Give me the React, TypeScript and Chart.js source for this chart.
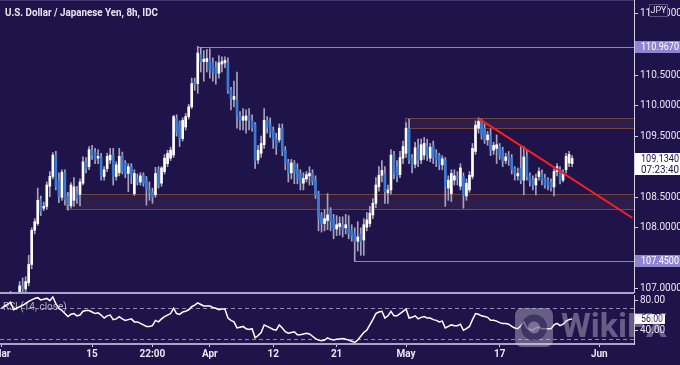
import React, { useEffect, useRef } from 'react';
import { Chart, registerables } from 'chart.js';
Chart.register(...registerables);

const BG = '#1f1449';
const AXIS = '#d2cfe2';
const TEXT = '#e8e6f2';
const UP = '#ffffff';
const DOWN = '#3b7bd6';
const WICK = '#a7a3be';
const SEP = '#aaa5c8';
const LEVEL = '#8c85c8';
const FONT = '"Liberation Sans Narrow", Roboto, sans-serif';

const title = 'U.S. Dollar / Japanese Yen, 8h, IDC';
const slotCount = 210;

const opens = [
  106.55,106.65,106.75,106.72,106.90,106.78,106.90,107.05,107.00,107.10,
  107.40,107.96,108.07,108.47,108.32,108.35,108.68,108.84,109.19,108.78,
  108.50,108.90,108.52,108.36,108.45,108.56,108.55,108.73,109.08,109.00,
  109.27,109.23,109.14,109.16,108.84,108.97,109.11,109.19,108.84,108.90,
  109.19,109.06,108.89,109.00,108.56,108.81,108.75,108.86,108.78,108.63,
  108.58,108.54,108.95,108.73,108.92,109.05,109.14,109.19,109.79,109.71,
  109.46,109.65,109.82,109.98,110.38,110.36,110.83,110.72,110.72,110.75,
  110.70,110.62,110.53,110.68,110.70,110.70,110.25,110.10,110.09,109.83,
  109.76,109.76,109.84,109.76,109.69,109.11,109.22,109.36,109.76,109.70,
  109.60,109.46,109.44,109.62,109.27,109.08,108.90,109.06,108.96,108.89,
  108.73,108.80,108.85,108.89,108.78,108.55,108.20,108.07,108.12,108.29,
  108.15,107.98,108.02,108.05,108.00,108.04,107.96,107.90,107.78,107.90,
  107.80,108.01,108.07,108.21,108.40,108.67,108.86,108.89,108.57,108.62,
  109.19,109.00,108.87,109.14,109.22,109.63,109.15,109.04,109.30,109.11,
  109.19,109.33,109.14,109.35,109.22,109.19,109.03,109.11,108.65,108.56,
  108.78,108.85,108.68,108.84,108.52,108.62,108.84,109.25,109.63,109.74,
  109.63,109.44,109.52,109.27,109.30,109.33,109.27,109.10,109.19,109.14,
  108.97,108.85,108.97,108.78,109.16,108.86,108.79,108.70,108.84,108.89,
  108.81,108.78,108.75,108.67,108.92,108.95,108.78,108.95,109.06,109.05,
];
const highs = [
  106.70,106.80,106.85,106.96,106.94,106.92,107.12,107.18,107.20,107.55,
  108.00,108.15,108.65,108.52,108.42,108.75,108.92,109.23,109.25,108.90,
  108.95,108.95,108.58,108.74,108.82,108.68,108.80,109.16,109.15,109.33,
  109.35,109.30,109.28,109.22,109.00,109.22,109.30,109.30,109.08,109.30,
  109.24,109.10,109.05,109.05,108.95,108.88,108.90,108.90,108.84,108.75,
  108.65,108.99,109.00,109.00,109.20,109.27,109.32,109.84,109.85,109.75,
  109.80,109.87,110.02,110.45,110.45,110.97,110.95,110.90,110.92,110.93,
  110.78,110.72,110.82,110.80,110.80,110.78,110.30,110.40,110.55,109.90,
  109.95,109.93,109.95,109.85,109.72,109.35,109.50,109.95,109.82,109.80,
  109.65,109.55,109.70,109.70,109.33,109.12,109.12,109.10,109.05,108.95,
  108.90,108.92,109.00,108.95,108.85,108.60,108.25,108.30,108.56,108.33,
  108.22,108.20,108.18,108.18,108.22,108.20,108.05,108.00,108.10,108.00,
  108.15,108.25,108.35,108.48,108.82,109.00,109.10,109.00,108.70,109.28,
  109.25,109.10,109.25,109.42,109.72,109.78,109.20,109.40,109.45,109.45,
  109.48,109.45,109.38,109.42,109.28,109.22,109.18,109.15,108.85,108.95,
  108.95,108.92,109.05,108.90,108.80,108.92,109.38,109.75,109.80,109.78,
  109.70,109.58,109.62,109.40,109.52,109.38,109.32,109.22,109.25,109.20,
  109.00,108.98,109.33,109.33,109.27,108.90,108.85,108.88,108.98,108.95,
  108.88,108.82,108.80,108.96,109.05,109.00,108.95,109.22,109.25,109.18,
];
const lows = [
  106.50,106.60,106.65,106.70,106.70,106.72,106.85,106.95,106.92,107.05,
  107.33,107.90,108.04,108.20,108.28,108.30,108.51,108.80,108.62,108.41,
  108.45,108.37,108.29,108.32,108.35,108.40,108.36,108.70,108.90,108.95,
  109.12,109.05,109.05,108.78,108.78,108.92,109.05,108.70,108.78,108.85,
  108.88,108.82,108.59,108.72,108.53,108.70,108.70,108.68,108.37,108.45,
  108.40,108.50,108.65,108.68,108.88,109.00,109.10,109.15,109.50,109.33,
  109.42,109.60,109.78,109.95,110.25,110.20,110.55,110.40,110.55,110.45,
  110.40,110.35,110.45,110.55,110.62,110.20,109.93,109.98,109.63,109.60,
  109.60,109.55,109.60,109.58,108.97,109.05,109.15,109.30,109.55,109.48,
  109.30,109.20,109.40,109.18,108.95,108.75,108.80,108.72,108.72,108.62,
  108.62,108.75,108.70,108.70,108.48,107.95,107.93,107.95,107.97,107.95,
  107.82,107.87,107.88,107.85,107.90,107.82,107.78,107.45,107.62,107.55,
  107.55,107.95,108.02,108.15,108.33,108.60,108.75,108.40,108.40,108.55,
  108.80,108.75,108.82,109.05,109.15,109.05,108.90,108.98,109.00,109.05,
  109.12,109.10,109.08,109.05,109.00,108.95,108.95,108.35,108.45,108.43,
  108.70,108.70,108.62,108.32,108.45,108.58,108.80,109.20,109.55,109.45,
  109.38,109.35,109.18,109.20,109.05,109.12,109.00,109.05,109.02,108.88,
  108.78,108.78,108.72,108.54,108.78,108.68,108.62,108.54,108.78,108.70,
  108.65,108.62,108.60,108.52,108.85,108.72,108.75,108.90,109.00,109.00,
];
const closes = [
  106.65,106.75,106.72,106.90,106.78,106.86,107.05,107.00,107.12,107.40,
  107.96,108.10,108.45,108.26,108.35,108.70,108.84,109.19,108.67,108.51,
  108.91,108.46,108.38,108.70,108.67,108.48,108.75,109.08,108.97,109.28,
  109.19,109.11,109.17,108.84,108.95,109.17,109.19,108.84,109.03,109.17,
  108.92,108.89,109.00,108.84,108.89,108.75,108.85,108.73,108.62,108.57,
  108.50,108.89,108.70,108.98,109.14,109.22,109.27,109.82,109.57,109.46,
  109.76,109.82,109.98,110.36,110.34,110.86,110.72,110.76,110.77,110.58,
  110.55,110.52,110.70,110.72,110.74,110.25,110.12,110.15,109.82,109.76,
  109.82,109.83,109.76,109.64,109.10,109.27,109.38,109.76,109.65,109.55,
  109.44,109.33,109.63,109.25,109.06,108.89,109.06,108.91,108.81,108.73,
  108.81,108.87,108.89,108.76,108.54,108.16,108.07,108.15,108.21,108.10,
  107.99,108.05,108.07,107.97,108.05,107.90,107.86,107.77,107.85,107.77,
  108.05,108.13,108.24,108.40,108.70,108.86,108.94,108.59,108.62,109.19,
  108.89,108.84,109.15,109.33,109.63,109.11,109.04,109.31,109.11,109.36,
  109.38,109.19,109.32,109.15,109.11,109.03,109.13,108.68,108.78,108.89,
  108.85,108.82,108.98,108.54,108.73,108.86,109.30,109.68,109.74,109.52,
  109.44,109.52,109.27,109.35,109.36,109.19,109.08,109.16,109.11,108.95,
  108.89,108.89,108.78,109.16,108.84,108.75,108.70,108.81,108.92,108.78,
  108.70,108.70,108.66,108.92,109.00,108.78,108.89,109.17,109.20,109.134,
];
const rsi = [
  70,73,75,78,68,70,72,74,76,79,
  81,83,84,81,82,83,80,85,76,70,
  67,63,59,62,63,60,61,66,67,67,
  65,63,64,61,57,60,61,55,56,59,
  56,54,55,56,52,52,50,48,46,46,
  47,54,52,56,59,61,63,70,63,62,
  65,66,68,72,74,77,75,73,73,73,
  71,70,68,69,69,57,54,52,44,45,
  46,43,42,43,31,34,38,48,46,44,
  42,41,48,44,39,37,38,39,35,35,
  36,37,36,33,30,28,27,28,31,29,
  28,29,29.5,30,29,28,26.5,25,28,33,
  38,41,48,55,63,65,66,57,60,66,
  60,60,63,66,69,57,58,60,56,58,
  59,57,57,55,54,52,53,44,46,48,
  47,47,49,41,43,46,55,63,62,60,
  59,58,54,54,53,51,50,50,49,46,
  44,43,47,52,44,42,41,44,45,43,
  43,43,43,48,50,47,49,53,55,56,
];

const xTickIdx = [0, 30, 50, 69, 90, 111, 134, 165, 198];
const xTickText = ['Mar', '15', '22:00', 'Apr', '12', '21', 'May', '17', 'Jun'];

const priceMin = 106.933;
const priceMax = 111.728;
const priceTicks = [107.0, 108.0, 108.5, 109.5, 110.0, 110.5, 111.5];

const zoneLow = [108.30, 109.63];
const zoneHigh = [108.56, 109.80];
const zoneStart = [22, 134];

const levelPrice = [110.967, 107.45];
const levelStart = [65, 117];

const trendIdx = [158, 209];
const trendPrice = [109.79, 108.16];

const lastPrice = 109.134;
const countdown = '07:23:40';

const rsiMin = 22.8;
const rsiMax = 87.5;
const rsiTicks = [40, 80];
const rsiLevels = [70, 30];
const lastRsi = 56;

function drawTag(ctx: CanvasRenderingContext2D, yTop: number, w: number, h: number, bg: string, fg: string, lines: string[], lineH: number) {
  ctx.save();
  ctx.fillStyle = bg;
  ctx.fillRect(635, yTop, w, h);
  ctx.fillStyle = fg;
  ctx.font = `10px ${FONT}`;
  ctx.textAlign = 'left';
  ctx.textBaseline = 'middle';
  lines.forEach((t, k) => ctx.fillText(t, 641, yTop + 6.5 + k * lineH, w - 7));
  ctx.restore();
}

export default function App() {
  const mainRef = useRef<HTMLCanvasElement>(null);
  const rsiRef = useRef<HTMLCanvasElement>(null);

  useEffect(() => {
    const labels = Array.from({ length: slotCount }, (_, i) => String(i));
    const trend: (number | null)[] = Array.from({ length: slotCount }, () => null);
    trendIdx.forEach((ix, k) => { trend[ix] = trendPrice[k]; });

    const mainOverlay = {
      id: 'mainOverlay',
      beforeDatasetsDraw(chart: any) {
        const { ctx, chartArea, scales } = chart;
        const x = scales.x, y = scales.y;
        const half = (chartArea.right - chartArea.left) / slotCount / 2;
        ctx.save();
        ctx.beginPath();
        ctx.rect(chartArea.left, chartArea.top, chartArea.right - chartArea.left, chartArea.bottom - chartArea.top);
        ctx.clip();
        zoneLow.forEach((lo, k) => {
          const x0 = Math.round(x.getPixelForValue(zoneStart[k]) - half) + 0.5;
          const yT = Math.round(y.getPixelForValue(zoneHigh[k])) + 0.5;
          const yB = Math.round(y.getPixelForValue(lo)) + 0.5;
          ctx.fillStyle = '#2e1d4a';
          ctx.fillRect(x0, yT, chartArea.right - x0, yB - yT);
          ctx.strokeStyle = '#70463f';
          ctx.lineWidth = 1;
          ctx.strokeRect(x0, yT, chartArea.right - x0 + 2, yB - yT);
        });
        levelPrice.forEach((p, k) => {
          const x0 = x.getPixelForValue(levelStart[k]);
          const yy = Math.round(y.getPixelForValue(p)) + 0.5;
          ctx.strokeStyle = LEVEL;
          ctx.lineWidth = 1;
          ctx.beginPath();
          ctx.moveTo(x0, yy);
          ctx.lineTo(chartArea.right, yy);
          ctx.stroke();
        });
        ctx.restore();
      },
      afterDraw(chart: any) {
        const { ctx, scales } = chart;
        const y = scales.y;
        ctx.save();
        ctx.fillStyle = TEXT;
        ctx.font = `bold 11px ${FONT}`;
        ctx.textBaseline = 'alphabetic';
        ctx.textAlign = 'left';
        ctx.fillText(title, 5, 16, 153);
        ctx.restore();
        levelPrice.forEach((p) => {
          const yy = y.getPixelForValue(p);
          drawTag(ctx, Math.round(yy - 6), 45, 12, '#8e84d0', '#ffffff', [p.toFixed(4)], 11);
        });
        const yl = y.getPixelForValue(lastPrice);
        drawTag(ctx, Math.round(yl - 6), 45, 22, '#ffffff', BG, [lastPrice.toFixed(4), countdown], 10.5);
        ctx.save();
        ctx.fillStyle = BG;
        ctx.fillRect(649, 4, 19, 13);
        ctx.strokeStyle = '#5a5482';
        ctx.lineWidth = 1;
        ctx.strokeRect(649.5, 4.5, 18, 12);
        ctx.fillStyle = TEXT;
        ctx.font = `9px ${FONT}`;
        ctx.textAlign = 'center';
        ctx.textBaseline = 'middle';
        ctx.fillText('JPY', 658.5, 10.5);
        ctx.restore();
      },
    };

    const c1 = new Chart(mainRef.current as HTMLCanvasElement, {
      type: 'bar',
      data: {
        labels,
        datasets: [
          {
            type: 'line',
            data: trend,
            borderColor: '#ff1e1e',
            borderWidth: 2,
            pointRadius: 0,
            spanGaps: true,
            order: -1,
          } as any,
          {
            data: opens.map((o, i) => [o, closes[i]]),
            backgroundColor: opens.map((o, i) => (closes[i] >= o ? UP : DOWN)),
            barThickness: 2,
            minBarLength: 1,
            grouped: false,
            order: 0,
          } as any,
          {
            data: lows.map((l, i) => [l, highs[i]]),
            backgroundColor: WICK,
            barThickness: 1,
            grouped: false,
            order: 1,
          } as any,
        ],
      },
      options: {
        responsive: false,
        animation: false,
        devicePixelRatio: 1,
        events: [],
        layout: { padding: 0 },
        plugins: { legend: { display: false }, tooltip: { enabled: false } },
        scales: {
          x: { type: 'category', offset: true, display: false },
          y: {
            position: 'right',
            min: priceMin,
            max: priceMax,
            afterBuildTicks: (s: any) => { s.ticks = priceTicks.map((v) => ({ value: v })); },
            afterFit: (s: any) => { s.width = 46; s.paddingTop = 0; s.paddingBottom = 0; },
            ticks: {
              callback: (v: any) => Number(v).toFixed(4),
              color: TEXT,
              font: { family: FONT, size: 10 },
              padding: 2,
            },
            grid: { drawOnChartArea: false, drawTicks: true, tickLength: 4, color: AXIS },
            border: { display: true, color: AXIS, width: 1 },
          },
        },
      } as any,
      plugins: [mainOverlay],
    });

    const rsiOverlay = {
      id: 'rsiOverlay',
      beforeDatasetsDraw(chart: any) {
        const { ctx, chartArea, scales } = chart;
        const y = scales.y;
        ctx.save();
        ctx.strokeStyle = '#8e8aab';
        ctx.lineWidth = 1;
        ctx.setLineDash([4, 3]);
        rsiLevels.forEach((lv) => {
          const yy = Math.round(y.getPixelForValue(lv)) + 0.5;
          ctx.beginPath();
          ctx.moveTo(chartArea.left, yy);
          ctx.lineTo(chartArea.right, yy);
          ctx.stroke();
        });
        ctx.restore();
        ctx.save();
        ctx.fillStyle = '#b3afca';
        ctx.font = `10px ${FONT}`;
        ctx.textAlign = 'left';
        ctx.textBaseline = 'middle';
        ctx.fillText('RSI (14, close)', 3, 13.5);
        ctx.restore();
      },
      afterDraw(chart: any) {
        const { ctx, scales } = chart;
        const y = scales.y;
        const yy = y.getPixelForValue(lastRsi);
        ctx.save();
        ctx.fillStyle = '#ffffff';
        ctx.fillRect(635, Math.round(yy - 4.5), 30, 10);
        ctx.fillStyle = BG;
        ctx.font = `10px ${FONT}`;
        ctx.textBaseline = 'middle';
        ctx.textAlign = 'left';
        ctx.fillText(lastRsi.toFixed(2), 641, Math.round(yy - 4.5) + 5, 22);
        ctx.restore();
        // watermark
        ctx.save();
        ctx.globalAlpha = 0.4;
        ctx.fillStyle = '#cfcce2';
        const rx = 515, ry = 14, rw = 38, rh = 39, r = 7;
        ctx.beginPath();
        ctx.moveTo(rx + r, ry);
        ctx.arcTo(rx + rw, ry, rx + rw, ry + rh, r);
        ctx.arcTo(rx + rw, ry + rh, rx, ry + rh, r);
        ctx.arcTo(rx, ry + rh, rx, ry, r);
        ctx.arcTo(rx, ry, rx + rw, ry, r);
        ctx.closePath();
        ctx.fill();
        ctx.globalAlpha = 0.55;
        ctx.fillStyle = BG;
        ctx.beginPath();
        ctx.arc(rx + rw / 2, ry + rh / 2, 13, 0, Math.PI * 2);
        ctx.fill();
        ctx.globalAlpha = 0.4;
        ctx.fillStyle = '#cfcce2';
        ctx.beginPath();
        ctx.arc(rx + rw / 2, ry + rh / 2, 6, 0, Math.PI * 2);
        ctx.fill();
        ctx.font = `bold 34px ${FONT}`;
        ctx.textBaseline = 'middle';
        ctx.textAlign = 'left';
        ctx.fillText('WikiFX', 561, 34, 110);
        ctx.restore();
      },
    };

    const c2 = new Chart(rsiRef.current as HTMLCanvasElement, {
      type: 'line',
      data: {
        labels,
        datasets: [
          {
            data: rsi,
            borderColor: '#ffffff',
            borderWidth: 1.5,
            pointRadius: 0,
            tension: 0,
          },
        ],
      },
      options: {
        responsive: false,
        animation: false,
        devicePixelRatio: 1,
        events: [],
        layout: { padding: { top: 1, left: 0, right: 0, bottom: 0 } },
        plugins: { legend: { display: false }, tooltip: { enabled: false } },
        scales: {
          x: {
            type: 'category',
            offset: true,
            afterBuildTicks: (s: any) => { s.ticks = xTickIdx.map((v) => ({ value: v })); },
            afterFit: (s: any) => { s.height = 21; s.paddingLeft = 0; s.paddingRight = 0; },
            ticks: {
              autoSkip: false,
              maxRotation: 0,
              callback: (v: any) => xTickText[xTickIdx.indexOf(Number(v))],
              color: TEXT,
              font: { family: FONT, size: 10, weight: 'bold' },
              padding: 1,
            },
            grid: { drawOnChartArea: false, drawTicks: true, tickLength: 3, color: AXIS, offset: false },
            border: { display: true, color: SEP, width: 2 },
          },
          y: {
            position: 'right',
            min: rsiMin,
            max: rsiMax,
            afterBuildTicks: (s: any) => { s.ticks = rsiTicks.map((v) => ({ value: v })); },
            afterFit: (s: any) => { s.width = 46; s.paddingTop = 0; s.paddingBottom = 0; },
            ticks: {
              callback: (v: any) => Number(v).toFixed(2),
              color: TEXT,
              font: { family: FONT, size: 10 },
              padding: 2,
            },
            grid: { drawOnChartArea: false, drawTicks: true, tickLength: 4, color: AXIS },
            border: { display: true, color: AXIS, width: 1 },
          },
        },
      } as any,
      plugins: [rsiOverlay],
    });

    return () => {
      c1.destroy();
      c2.destroy();
    };
  }, []);

  return (
    <div style={{ position: 'fixed', left: 0, top: 0, width: 680, height: 365, background: BG, overflow: 'hidden' }}>
      <canvas ref={mainRef} width={680} height={293} style={{ position: 'absolute', left: 0, top: 0, width: 680, height: 293 }} />
      <div style={{ position: 'absolute', left: 0, top: 0, width: 634, height: 1, background: '#3e3570' }} />
      <div style={{ position: 'absolute', left: 0, top: 292, width: 634, height: 2, background: SEP }} />
      <canvas ref={rsiRef} width={680} height={71} style={{ position: 'absolute', left: 0, top: 294, width: 680, height: 71 }} />
    </div>
  );
}
